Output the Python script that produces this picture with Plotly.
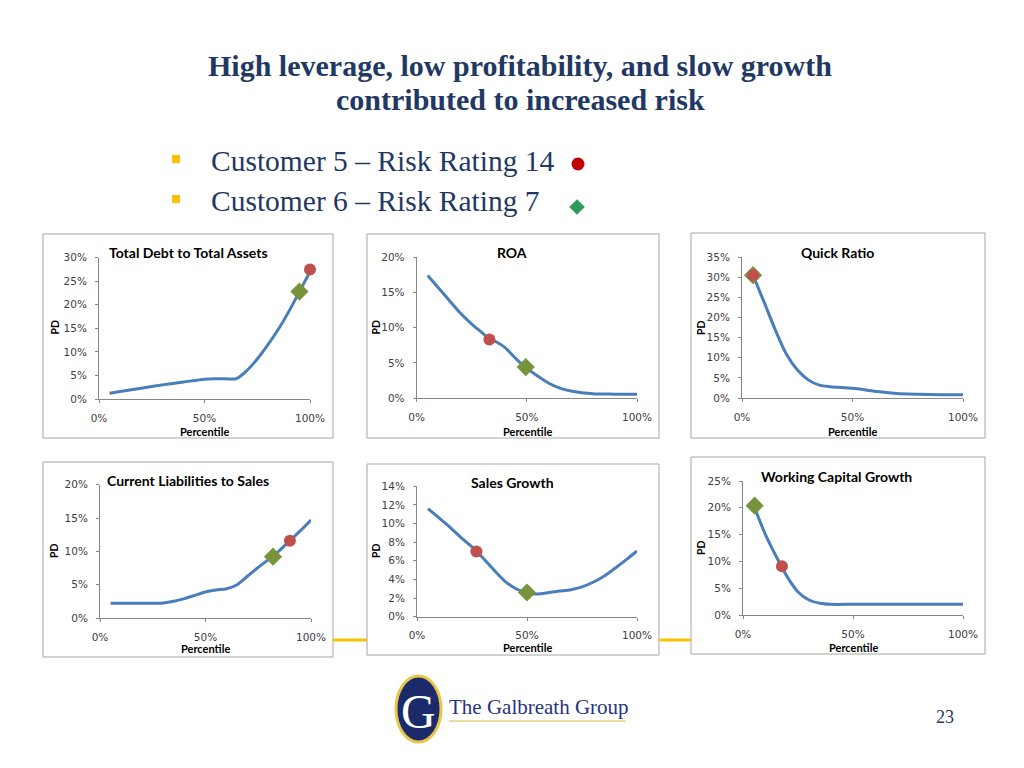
import plotly.graph_objects as go

# page canvas (reference pixels) and body-margin compensation
W, H = 1008, 752
OFF = 8

# ---------------- DATA ----------------
chart_titles = ["Total Debt to Total Assets", "ROA", "Quick Ratio",
                "Current Liabilities to Sales", "Sales Growth", "Working Capital Growth"]

# PD curves (percentile %, PD %)
td_pct = [5, 10, 20, 30, 40, 50, 55, 60, 65, 70, 75, 80, 85, 90, 95, 100]
td_pd = [1.2, 1.6, 2.3, 3.0, 3.6, 4.2, 4.3, 4.3, 4.3, 6.0, 8.5, 11.5, 14.8, 18.6, 22.8, 27.0]

roa_pct = [5, 10, 15, 20, 25, 30, 33, 36, 40, 45, 50, 55, 60, 65, 70, 80, 90, 100]
roa_pd = [17.4, 15.6, 13.8, 12.0, 10.5, 9.2, 8.4, 8.0, 7.2, 5.6, 4.2, 3.1, 2.1, 1.4, 1.0, 0.6, 0.55, 0.55]

qr_pct = [5, 10, 15, 20, 25, 30, 35, 40, 50, 60, 70, 80, 90, 100]
qr_pd = [30.5, 23.8, 17.0, 11.0, 7.0, 4.5, 3.2, 2.8, 2.4, 1.7, 1.1, 0.9, 0.8, 0.8]

cls_pct = [5, 10, 20, 30, 35, 40, 45, 50, 55, 60, 65, 70, 75, 80, 85, 90, 95, 100]
cls_pd = [2.2, 2.2, 2.2, 2.25, 2.5, 2.9, 3.4, 3.9, 4.2, 4.4, 5.0, 6.3, 7.6, 8.8, 10.1, 11.6, 13.1, 14.7]

sg_pct = [5, 10, 15, 20, 25, 30, 35, 40, 45, 50, 55, 60, 65, 70, 75, 80, 85, 90, 95, 100]
sg_pd = [11.6, 10.6, 9.6, 8.5, 7.5, 6.3, 5.0, 3.8, 3.0, 2.55, 2.45, 2.6, 2.75, 2.9, 3.2, 3.7, 4.35, 5.2, 6.1, 7.05]

wcg_pct = [5, 10, 15, 20, 25, 30, 35, 40, 50, 60, 70, 80, 90, 100]
wcg_pd = [20.3, 15.2, 11.0, 7.2, 4.3, 2.8, 2.2, 2.0, 2.0, 2.0, 2.0, 2.0, 2.0, 2.0]

curve_x = [td_pct, roa_pct, qr_pct, cls_pct, sg_pct, wcg_pct]
curve_y = [td_pd, roa_pd, qr_pd, cls_pd, sg_pd, wcg_pd]

# Customer 5 (red circle) and Customer 6 (green diamond) positions per chart
cust5_pct = [100, 33, 5, 90, 27, 17.7]
cust5_pd = [27.5, 8.3, 30.5, 11.6, 7.0, 9.1]
cust6_pct = [95, 49.5, 5, 82, 50, 5.3]
cust6_pd = [22.8, 4.4, 30.5, 9.2, 2.6, 20.4]

y_max = [30, 20, 35, 20, 14, 25]
y_step = [5, 5, 5, 5, 2, 5]
x_ticks = [0, 50, 100]
x_tick_text = ["0%", "50%", "100%"]

title_lines = ["High leverage, low profitability, and slow growth",
               "contributed to increased risk"]
bullets = ["Customer 5 \u2013 Risk Rating 14", "Customer 6 \u2013 Risk Rating 7"]

# ---------------- LAYOUT SPECS (reference pixels) ----------------
plot_x = [(99, 310), (416.7, 637), (742, 963), (100, 311), (417, 637), (743, 963)]
plot_y = [(257.7, 399), (257.3, 398), (257, 398), (484.7, 618), (486.3, 616.7), (481, 615)]
boxes = [(43, 234, 333, 438), (367, 234, 659, 438), (691, 233, 985, 438),
         (43, 462, 333, 657), (367, 464, 659, 655), (691, 457, 985, 654)]
title_pos = [(188, 252), (512, 252), (837, 252), (188, 480), (512, 482), (836, 476)]
pd_pos = [(54.5, 327), (376, 327.5), (701, 328), (54, 551), (376, 551), (701, 548)]
pctl_pos = [(204, 431), (527, 431), (852, 431), (205, 648.5), (527, 647.5), (853, 647)]

NAVY = "#1F3864"
LINE_BLUE = "#4A7EBB"
RED = "#C0504D"
GREEN = "#77933C"
AXIS_GRAY = "#868686"
TICK_FONT = dict(family="DejaVu Sans, sans-serif", size=10.5, color="#404040")
LBL_FONT = "Lato, sans-serif"


def fx(p):
    return (p - OFF) / W


def fy(p):
    return 1 - (p - OFF) / H


fig = go.Figure()
layout = dict(
    width=W, height=H, margin=dict(l=0, r=0, t=0, b=0, pad=0), autosize=False,
    paper_bgcolor="white", plot_bgcolor="rgba(0,0,0,0)", showlegend=False,
)
shapes = []
annotations = []

for i in range(6):
    n = i + 1
    xa = "x" if n == 1 else f"x{n}"
    ya = "y" if n == 1 else f"y{n}"
    xk = "xaxis" if n == 1 else f"xaxis{n}"
    yk = "yaxis" if n == 1 else f"yaxis{n}"

    fig.add_trace(go.Scatter(
        x=curve_x[i], y=curve_y[i], mode="lines",
        line=dict(color=LINE_BLUE, width=3, shape="spline", smoothing=0.8),
        xaxis=xa, yaxis=ya, hoverinfo="skip"))
    fig.add_trace(go.Scatter(
        x=[cust6_pct[i]], y=[cust6_pd[i]], mode="markers",
        marker=dict(symbol="diamond", size=14, color=GREEN),
        cliponaxis=False, xaxis=xa, yaxis=ya))
    fig.add_trace(go.Scatter(
        x=[cust5_pct[i]], y=[cust5_pd[i]], mode="markers",
        marker=dict(symbol="circle", size=12, color=RED),
        cliponaxis=False, xaxis=xa, yaxis=ya))

    common = dict(showline=True, linecolor=AXIS_GRAY, linewidth=1, ticks="outside",
                  ticklen=3, tickcolor=AXIS_GRAY, showgrid=False, zeroline=False,
                  tickfont=TICK_FONT, fixedrange=True, automargin=False)
    layout[xk] = dict(domain=[fx(plot_x[i][0]), fx(plot_x[i][1])], range=[0, 100],
                      tickvals=x_ticks, ticktext=x_tick_text, anchor=ya,
                      ticklabelstandoff=6, **common)
    layout[yk] = dict(domain=[fy(plot_y[i][1]), fy(plot_y[i][0])], range=[0, y_max[i]],
                      dtick=y_step[i], tick0=0, ticksuffix="%", anchor=xa,
                      ticklabelstandoff=6, **common)

    b = boxes[i]
    shapes.append(dict(type="rect", xref="paper", yref="paper", layer="below",
                       x0=fx(b[0]), x1=fx(b[2]), y0=fy(b[3]), y1=fy(b[1]),
                       line=dict(color="#A6A6A6", width=1), fillcolor="white"))
    annotations.append(dict(text=f"<b>{chart_titles[i]}</b>", x=fx(title_pos[i][0]),
                            y=fy(title_pos[i][1]), xref="paper", yref="paper",
                            showarrow=False, xanchor="center", yanchor="middle",
                            font=dict(family=LBL_FONT, size=14, color="black")))
    annotations.append(dict(text="<b>PD</b>", x=fx(pd_pos[i][0]), y=fy(pd_pos[i][1]),
                            xref="paper", yref="paper", showarrow=False, textangle=-90,
                            xanchor="center", yanchor="middle",
                            font=dict(family=LBL_FONT, size=10.5, color="black")))
    annotations.append(dict(text="<b>Percentile</b>", x=fx(pctl_pos[i][0]), y=fy(pctl_pos[i][1]),
                            xref="paper", yref="paper", showarrow=False,
                            xanchor="center", yanchor="middle",
                            font=dict(family=LBL_FONT, size=11, color="black")))

# connecting yellow lines between bottom boxes (behind)
for (a, bx) in [(333, 367), (659, 691)]:
    shapes.append(dict(type="line", xref="paper", yref="paper", layer="below",
                       x0=fx(a), x1=fx(bx), y0=fy(640), y1=fy(640),
                       line=dict(color="#F5C400", width=3)))

# main title
for txt, yy in zip(title_lines, [65, 99]):
    annotations.append(dict(text=f"<b>{txt}</b>", x=fx(520), y=fy(yy), xref="paper", yref="paper",
                            showarrow=False, xanchor="center", yanchor="middle",
                            font=dict(family="Liberation Serif, serif", size=30, color=NAVY)))

# bullets
for txt, yy in zip(bullets, [161, 201]):
    shapes.append(dict(type="rect", xref="paper", yref="paper",
                       x0=fx(172), x1=fx(180), y0=fy(yy + 2), y1=fy(yy - 6),
                       line=dict(width=0), fillcolor="#FFC000"))
    annotations.append(dict(text=txt, x=fx(209), y=fy(yy), xref="paper", yref="paper",
                            showarrow=False, xanchor="left", yanchor="middle",
                            font=dict(family="Liberation Serif, serif", size=29.5, color=NAVY)))

# legend markers next to bullets
fig.add_trace(go.Scatter(x=[fx(578)], y=[fy(164)], mode="markers", xaxis="x7", yaxis="y7",
                         marker=dict(symbol="circle", size=13, color="#C00000"), cliponaxis=False))
fig.add_trace(go.Scatter(x=[fx(577)], y=[fy(207)], mode="markers", xaxis="x7", yaxis="y7",
                         marker=dict(symbol="diamond", size=12, color="#2E9B5E"), cliponaxis=False))
layout["xaxis7"] = dict(domain=[0, 1], range=[0, 1], visible=False, fixedrange=True,
                        anchor="y7", automargin=False)
layout["yaxis7"] = dict(domain=[0, 1], range=[0, 1], visible=False, fixedrange=True,
                        anchor="x7", automargin=False)

# logo
shapes.append(dict(type="circle", xref="paper", yref="paper",
                   x0=fx(396), x1=fx(441), y0=fy(742), y1=fy(676),
                   line=dict(color="#E8C547", width=3), fillcolor="#1B2A6B"))
annotations.append(dict(text="G", x=fx(418.5), y=fy(711), xref="paper", yref="paper",
                        showarrow=False, xanchor="center", yanchor="middle",
                        font=dict(family="Liberation Serif, serif", size=48, color="white")))
annotations.append(dict(text="The Galbreath Group", x=fx(447), y=fy(707), xref="paper", yref="paper",
                        showarrow=False, xanchor="left", yanchor="middle",
                        font=dict(family="Liberation Serif, serif", size=21, color="#26337F")))
shapes.append(dict(type="line", xref="paper", yref="paper",
                   x0=fx(449), x1=fx(626), y0=fy(721), y1=fy(721),
                   line=dict(color="#E8D27A", width=1.5)))

# page number
annotations.append(dict(text="23", x=fx(945), y=fy(717), xref="paper", yref="paper",
                        showarrow=False, xanchor="center", yanchor="middle",
                        font=dict(family="Liberation Serif, serif", size=18, color=NAVY)))

layout["shapes"] = shapes
layout["annotations"] = annotations
fig.update_layout(**layout)
fig.write_html("out.html")
